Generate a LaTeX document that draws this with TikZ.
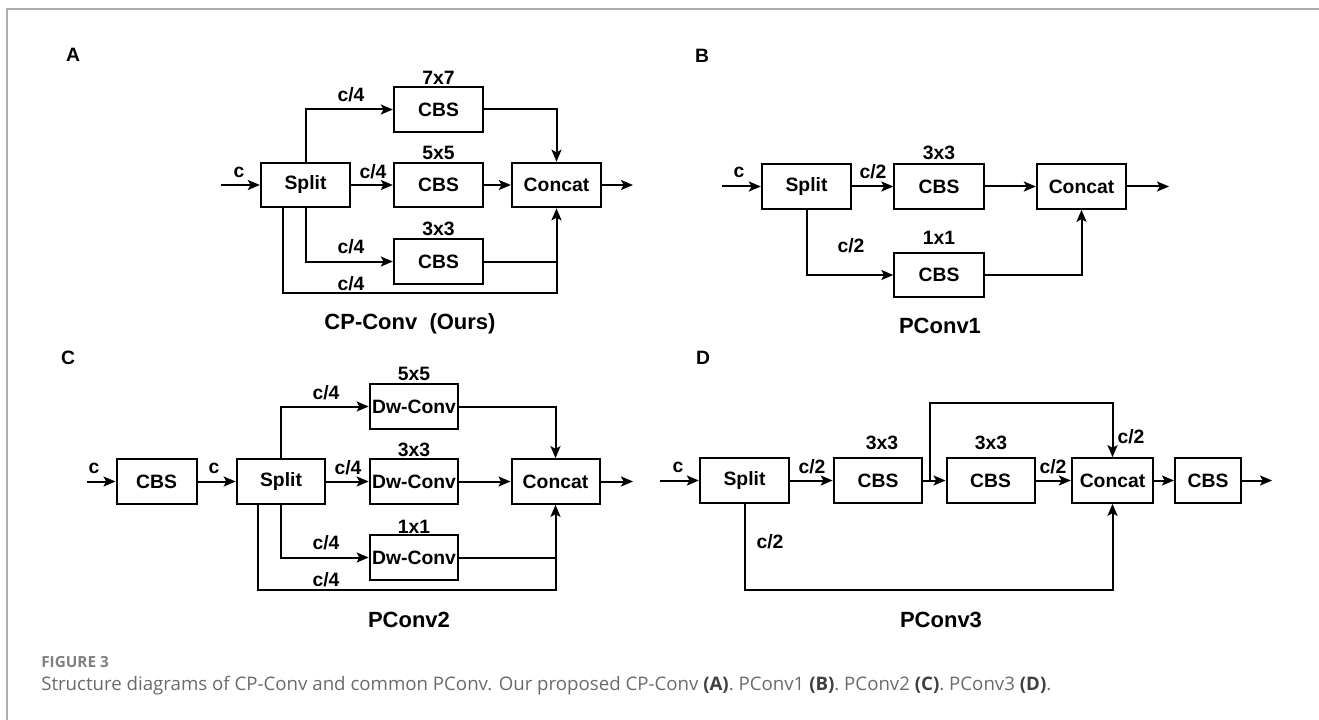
\documentclass[tikz,border=0pt]{standalone}
\usepackage{fontspec}
\setmainfont{Liberation Sans}
\newfontfamily\capfont{Open Sans}
\usetikzlibrary{arrows.meta,calc}
\begin{document}
\begin{tikzpicture}[x=0.75pt,y=-0.75pt,
  blk/.style={draw,line width=1.5pt,minimum height=33.5pt,inner sep=0pt,font=\bfseries\fontsize{14.5}{16}\selectfont},
  lab/.style={inner sep=0pt,font=\bfseries\fontsize{14.5}{16}\selectfont},
  ttl/.style={inner sep=0pt,font=\bfseries\fontsize{16.5}{19}\selectfont},
  plab/.style={inner sep=0pt,font=\bfseries\fontsize{14.5}{16}\selectfont},
  arr/.style={line width=1.5pt,-{Stealth[length=9pt,width=7.5pt,inset=2pt]}},
  ln/.style={line width=1.5pt}]
\useasboundingbox (0,0) rectangle (1319,720);
\fill[white] (0,0) rectangle (1319,720);
% frame
\draw[line width=1.5pt,color=black!32] (7,720) -- (7,9) -- (1319,9);

% ================= Panel A =================
\node[plab] (lA) at (73,55) {A};
\node[blk,minimum width=67pt] (splitA) at (305.5,185) {Split};
\node[blk,minimum width=67pt] (cbsA7) at (438.5,109.5) {CBS};
\node[blk,minimum width=67pt] (cbsA5) at (438.5,185) {CBS};
\node[blk,minimum width=67pt] (cbsA3) at (438.5,261.5) {CBS};
\node[blk,minimum width=67pt] (catA) at (556.5,185) {Concat};
\coordinate (inA) at (221,185);
\coordinate (outA) at (633,185);
\coordinate (lowA) at (283,293);
\draw[arr] (inA) -- (splitA);
\draw[arr] (splitA) -- (cbsA5);
\draw[arr] (cbsA5) -- (catA);
\draw[arr] (catA) -- (outA);
\draw[arr] (splitA.north) |- (cbsA7.west);
\draw[arr] (splitA.south) |- (cbsA3.west);
\draw[arr] (cbsA7.east) -| (catA.north);
\draw[ln] (cbsA3.east) -- (cbsA3.east -| catA.south);
\draw[arr] (splitA.south -| lowA) -- (lowA) -| (catA.south);
\node[lab] (tA7) at (438.5,78) {7x7};
\node[lab] (tA5) at (438.5,153) {5x5};
\node[lab] (tA3) at (438.5,229) {3x3};
\node[lab] (cA) at (239,172) {c};
\node[lab] (cA1) at (351,95) {c/4};
\node[lab] (cA2) at (373,172) {c/4};
\node[lab] (cA3) at (351,247) {c/4};
\node[lab] (cA4) at (351,284) {c/4};
\node[ttl] (titA) at (410,324) {CP-Conv\ \ (Ours)};

% ================= Panel B =================
\node[plab] (lB) at (702,56) {B};
\node[blk,minimum width=67pt] (splitB) at (806.5,186.5) {Split};
\node[blk,minimum width=67pt] (cbsB3) at (939,186.5) {CBS};
\node[blk,minimum width=67pt] (catB) at (1081.5,186.5) {Concat};
\node[blk,minimum width=67pt] (cbsB1) at (939,275) {CBS};
\coordinate (inB) at (722,186.5);
\coordinate (outB) at (1169,186.5);
\draw[arr] (inB) -- (splitB);
\draw[arr] (splitB) -- (cbsB3);
\draw[arr] (cbsB3) -- (catB);
\draw[arr] (catB) -- (outB);
\draw[arr] (splitB.south) |- (cbsB1.west);
\draw[arr] (cbsB1.east) -| (catB.south);
\node[lab] (cB) at (739,172) {c};
\node[lab] (cB1) at (873,172) {c/2};
\node[lab] (cB2) at (851,246) {c/2};
\node[lab] (tB3) at (939,153) {3x3};
\node[lab] (tB1) at (939,238) {1x1};
\node[ttl] (titB) at (940,326) {PConv1};

% ================= Panel C =================
\node[plab] (lC) at (68,358) {C};
\node[blk,minimum width=60pt] (cbsC) at (156.5,481.5) {CBS};
\node[blk,minimum width=66.5pt] (splitC) at (281,481.5) {Split};
\node[blk,minimum width=66.5pt] (dwC5) at (414,406.5) {Dw-Conv};
\node[blk,minimum width=66.5pt] (dwC3) at (414,481.5) {Dw-Conv};
\node[blk,minimum width=66.5pt] (dwC1) at (414,557.5) {Dw-Conv};
\node[blk,minimum width=66pt] (catC) at (555.5,481.5) {Concat};
\coordinate (inC) at (87,481.5);
\coordinate (outC) at (633,481.5);
\coordinate (lowC) at (258,590);
\draw[arr] (inC) -- (cbsC);
\draw[arr] (cbsC) -- (splitC);
\draw[arr] (splitC) -- (dwC3);
\draw[arr] (dwC3) -- (catC);
\draw[arr] (catC) -- (outC);
\draw[arr] (splitC.north) |- (dwC5.west);
\draw[arr] (splitC.south) |- (dwC1.west);
\draw[arr] (dwC5.east) -| (catC.north);
\draw[ln] (dwC1.east) -- (dwC1.east -| catC.south);
\draw[arr] (splitC.south -| lowC) -- (lowC) -| (catC.south);
\node[lab] (cC0) at (94,468) {c};
\node[lab] (cC00) at (214,468) {c};
\node[lab] (cC1) at (326,393) {c/4};
\node[lab] (cC2) at (348,468) {c/4};
\node[lab] (cC3) at (326,543) {c/4};
\node[lab] (cC4) at (326,580) {c/4};
\node[lab] (tC5) at (414,374) {5x5};
\node[lab] (tC3) at (414,450) {3x3};
\node[lab] (tC1) at (414,527) {1x1};
\node[ttl] (titC) at (409,620) {PConv2};

% ================= Panel D =================
\node[plab] (lD) at (703,358) {D};
\node[blk,minimum width=67pt] (splitD) at (744.5,480.5) {Split};
\node[blk,minimum width=66.5pt] (cbsD1) at (878,480.5) {CBS};
\node[blk,minimum width=66pt] (cbsD2) at (990.5,480.5) {CBS};
\node[blk,minimum width=61pt] (catD) at (1112.5,480.5) {Concat};
\node[blk,minimum width=49.5pt] (cbsD3) at (1208,480.5) {CBS};
\coordinate (inD) at (660,480.5);
\coordinate (outD) at (1272,480.5);
\coordinate (skipD) at (930,403);
\coordinate (lowD) at (744.5,590);
\draw[arr] (inD) -- (splitD);
\draw[arr] (splitD) -- (cbsD1);
\draw[arr] (cbsD1) -- (cbsD2);
\draw[arr] (cbsD2) -- (catD);
\draw[arr] (catD) -- (cbsD3);
\draw[arr] (cbsD3) -- (outD);
\draw[arr] (cbsD1.east -| skipD) -- (skipD) -| (catD.north);
\draw[arr] (splitD.south) -- (lowD) -| (catD.south);
\node[lab] (cD0) at (678,467) {c};
\node[lab] (cD1) at (812,467) {c/2};
\node[lab] (cD2) at (1053,467) {c/2};
\node[lab] (cD3) at (1131,437) {c/2};
\node[lab] (cD4) at (770,542) {c/2};
\node[lab] (tD1) at (882,443) {3x3};
\node[lab] (tD2) at (991,443) {3x3};
\node[ttl] (titD) at (941,620) {PConv3};

% ================= Caption =================
\node[anchor=west,inner sep=0pt,font=\capfont\bfseries\fontsize{11.5}{13}\selectfont,text=black!50] (figno) at (41,662) {FIGURE 3};
\node[anchor=west,inner sep=0pt,font=\capfont\fontsize{14}{16}\selectfont,text=black!58] (cap) at (41,686) {Structure diagrams of CP-Conv and common PConv. Our proposed CP-Conv \textcolor{black!75}{\bfseries(A)}. PConv1 \textcolor{black!75}{\bfseries(B)}. PConv2 \textcolor{black!75}{\bfseries(C)}. PConv3 \textcolor{black!75}{\bfseries(D)}.};
\end{tikzpicture}
\end{document}
